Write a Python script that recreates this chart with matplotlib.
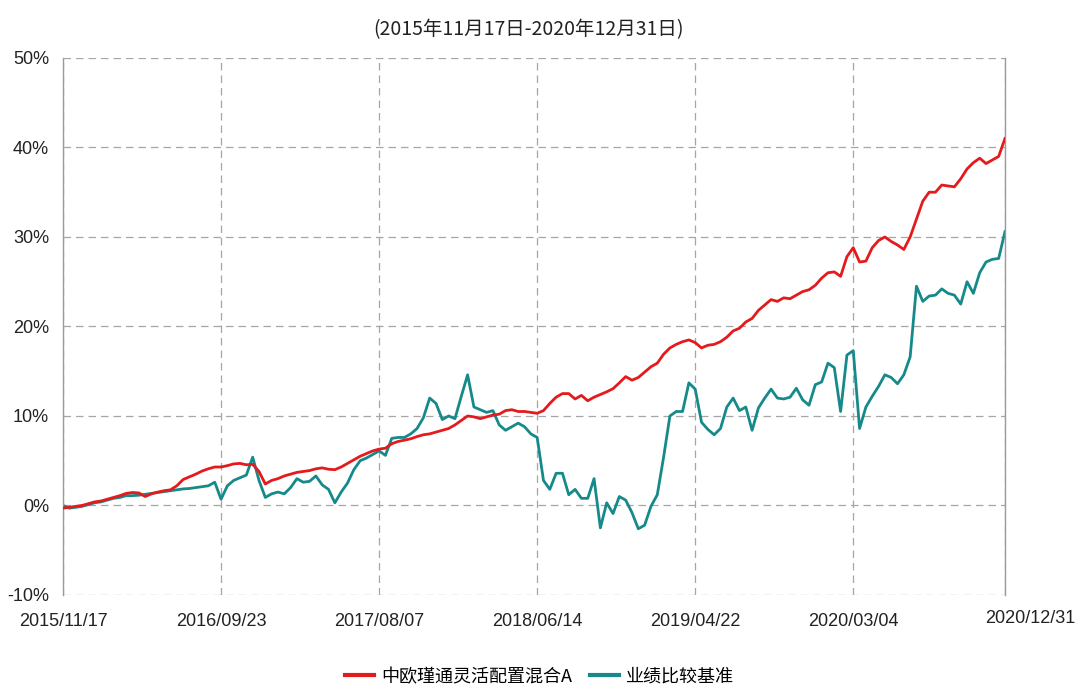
import matplotlib
matplotlib.use("Agg")
import matplotlib.pyplot as plt
import matplotlib.transforms as mtransforms
from matplotlib.lines import Line2D

# ---- data (cumulative return, %) sampled at equal trading-day steps ----
fund_name = "中欧瑾通灵活配置混合A"
bench_name = "业绩比较基准"
title_text = "(2015年11月17日-2020年12月31日)"

fund = [-0.3, -0.2, -0.1, 0.0, 0.2, 0.4, 0.5, 0.7, 0.9, 1.1,
        1.35, 1.45, 1.4, 1.0, 1.3, 1.5, 1.65, 1.75, 2.2, 2.9,
        3.2, 3.5, 3.85, 4.1, 4.3, 4.3, 4.45, 4.65, 4.7, 4.55,
        4.6, 3.8, 2.4, 2.8, 3.0, 3.3, 3.5, 3.7, 3.8, 3.9,
        4.1, 4.2, 4.05, 4.0, 4.3, 4.7, 5.1, 5.5, 5.8, 6.1,
        6.3, 6.4, 6.9, 7.15, 7.3, 7.45, 7.7, 7.9, 8.0, 8.2,
        8.4, 8.6, 9.0, 9.5, 10.0, 9.9, 9.7, 9.9, 10.1, 10.2,
        10.6, 10.7, 10.5, 10.5, 10.4, 10.3, 10.6, 11.4, 12.1, 12.5,
        12.5, 11.9, 12.3, 11.7, 12.1, 12.4, 12.7, 13.05, 13.7, 14.4,
        14.0, 14.3, 14.9, 15.5, 15.9, 16.9, 17.6, 18.0, 18.3, 18.5,
        18.2, 17.6, 17.9, 18.0, 18.3, 18.8, 19.5, 19.8, 20.5, 20.9,
        21.8, 22.4, 23.0, 22.8, 23.2, 23.1, 23.5, 23.9, 24.1, 24.6,
        25.4, 26.0, 26.1, 25.6, 27.8, 28.8, 27.2, 27.3, 28.8, 29.6,
        30.0, 29.5, 29.1, 28.6, 30.0, 32.0, 34.0, 35.0, 35.0, 35.8,
        35.7, 35.6, 36.5, 37.6, 38.3, 38.8, 38.2, 38.6, 39.0, 41.0]

bench = [0.0, -0.3, -0.2, -0.1, 0.1, 0.3, 0.4, 0.6, 0.8, 0.9,
         1.1, 1.1, 1.15, 1.25, 1.35, 1.45, 1.55, 1.65, 1.75, 1.85,
         1.9, 2.0, 2.1, 2.2, 2.6, 0.7, 2.2, 2.8, 3.1, 3.4,
         5.4, 2.8, 0.9, 1.3, 1.5, 1.3, 2.0, 3.0, 2.6, 2.7,
         3.3, 2.3, 1.8, 0.3, 1.5, 2.5, 4.0, 5.0, 5.3, 5.7,
         6.1, 5.6, 7.5, 7.6, 7.6, 8.0, 8.6, 9.8, 12.0, 11.4,
         9.6, 10.0, 9.7, 12.2, 14.6, 11.0, 10.7, 10.4, 10.6, 9.0,
         8.4, 8.8, 9.2, 8.8, 8.0, 7.6, 2.8, 1.8, 3.6, 3.6,
         1.2, 1.8, 0.8, 0.8, 3.0, -2.5, 0.3, -0.9, 1.0, 0.6,
         -0.8, -2.6, -2.2, -0.1, 1.2, 5.4, 10.0, 10.5, 10.5, 13.7,
         13.0, 9.3, 8.5, 7.9, 8.6, 11.0, 12.0, 10.6, 11.0, 8.4,
         10.9, 12.0, 13.0, 12.0, 11.9, 12.1, 13.1, 11.8, 11.2, 13.5,
         13.8, 15.9, 15.4, 10.5, 16.8, 17.3, 8.6, 11.0, 12.2, 13.3,
         14.6, 14.3, 13.6, 14.6, 16.6, 24.5, 22.8, 23.4, 23.5, 24.2,
         23.7, 23.5, 22.5, 25.0, 23.7, 26.0, 27.2, 27.5, 27.6, 30.6]

tick_idx = [0, 25, 50, 75, 100, 125, 149]
tick_labels = ["2015/11/17", "2016/09/23", "2017/08/07", "2018/06/14",
               "2019/04/22", "2020/03/04", "2020/12/31"]
y_ticks = [-10, 0, 10, 20, 30, 40, 50]

RED = "#e41a1c"
TEAL = "#16898a"

plt.rcParams['font.family'] = ['Liberation Sans Narrow', 'Liberation Sans', 'DejaVu Sans']

fig = plt.figure(figsize=(10.79, 6.85), dpi=100)
ax = fig.add_axes([0.0584, 0.1314, 0.873, 0.784])

x = list(range(len(fund)))
ax.plot(x, fund, color=RED, lw=2.0, zorder=3, solid_joinstyle='round')
ax.plot(x, bench, color=TEAL, lw=2.0, zorder=2, solid_joinstyle='round')

ax.set_xlim(0, len(fund) - 1)
ax.set_ylim(-10, 50)
ax.set_yticks(y_ticks)
ax.set_yticklabels([f"{v}%" for v in y_ticks])
ax.set_xticks(tick_idx)
ax.set_xticklabels(tick_labels)

ax.grid(True, color="#a6a6a6", linestyle=(0, (6, 4)), linewidth=0.9)
ax.set_axisbelow(True)
for s in ["top", "bottom"]:
    ax.spines[s].set_visible(False)
for s in ["left", "right"]:
    ax.spines[s].set_color("#9a9a9a")
    ax.spines[s].set_linewidth(1.0)

ax.tick_params(axis="y", length=0, pad=10, labelsize=13, labelcolor="#222222")
ax.tick_params(axis="x", length=0, pad=13, labelsize=13, labelcolor="#222222")

# last date label sits a little to the right and higher
lbl = ax.get_xticklabels()[-1]
off = mtransforms.ScaledTranslation(25 / 100, 3 / 100, fig.dpi_scale_trans)
lbl.set_transform(lbl.get_transform() + off)

fig.text(0.49, 0.957, title_text, ha="center", va="center", fontsize=14,
         family=['Noto Sans CJK SC', 'DejaVu Sans'], color="#222222")

handles = [Line2D([0], [0], color=RED, lw=3), Line2D([0], [0], color=TEAL, lw=3)]
fig.legend(handles, [fund_name, bench_name], loc="center", bbox_to_anchor=(0.5, 0.012),
           ncol=2, frameon=False, handlelength=1.6, handletextpad=0.4, columnspacing=1.0,
           prop={'family': ['Noto Sans CJK SC', 'DejaVu Sans'], 'size': 13})

fig.savefig("out.png", dpi=100)
